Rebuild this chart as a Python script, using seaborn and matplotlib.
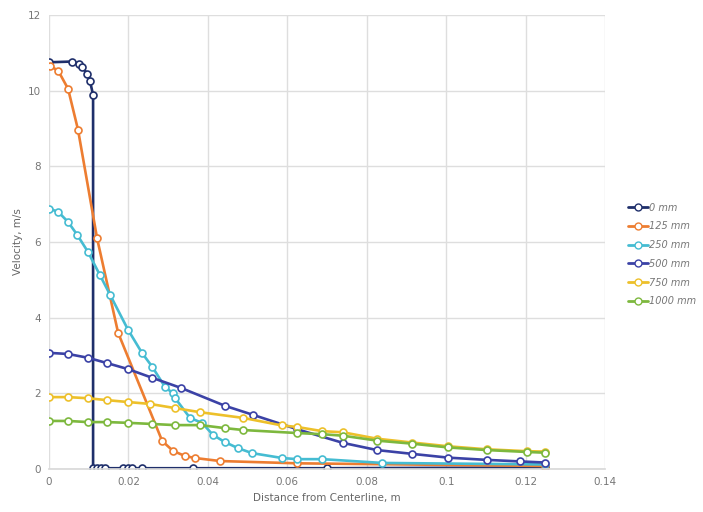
import numpy as np
import pandas as pd
import matplotlib
matplotlib.use("Agg")
import matplotlib.pyplot as plt
import seaborn as sns
from matplotlib.lines import Line2D

series_names = ["0 mm", "125 mm", "250 mm", "500 mm", "750 mm", "1000 mm"]
colors = ["#1F2F6B", "#ED7D31", "#45BCD2", "#3B42A6", "#EDC02A", "#7DB83E"]

x_0 = [0.0, 0.0058, 0.0076, 0.0083, 0.0096, 0.0103, 0.0111, 0.0111, 0.0121, 0.0131, 0.0141,
       0.0186, 0.0199, 0.0209, 0.0234, 0.0363, 0.070, 0.125]
y_0 = [10.75, 10.77, 10.71, 10.63, 10.45, 10.26, 9.89, 0.02, 0.02, 0.02, 0.02,
       0.02, 0.02, 0.02, 0.02, 0.02, 0.02, 0.04]

x_125 = [0.0003, 0.0023, 0.0048, 0.0073, 0.0121, 0.0174, 0.0285, 0.0312, 0.0343, 0.0368,
         0.0431, 0.0625, 0.125]
y_125 = [10.65, 10.53, 10.05, 8.97, 6.1, 3.6, 0.74, 0.48, 0.34, 0.29,
         0.21, 0.15, 0.08]

x_250 = [0.0, 0.0023, 0.0048, 0.0071, 0.0098, 0.0128, 0.0154, 0.0199, 0.0234, 0.026,
         0.0292, 0.0312, 0.0317, 0.0355, 0.0385, 0.0413, 0.0443, 0.0476, 0.0511, 0.0587,
         0.0625, 0.0688, 0.0839, 0.125]
y_250 = [6.88, 6.8, 6.53, 6.19, 5.74, 5.13, 4.6, 3.68, 3.07, 2.7,
         2.17, 2.0, 1.88, 1.35, 1.22, 0.9, 0.71, 0.55, 0.42, 0.29,
         0.26, 0.26, 0.16, 0.12]

x_500 = [0.0, 0.0048, 0.0098, 0.0146, 0.0199, 0.026, 0.0333, 0.0443, 0.0514, 0.0625,
         0.074, 0.0826, 0.0914, 0.1005, 0.1103, 0.1186, 0.125]
y_500 = [3.07, 3.04, 2.94, 2.8, 2.64, 2.41, 2.14, 1.67, 1.43, 1.05,
         0.69, 0.5, 0.4, 0.3, 0.24, 0.2, 0.17]

x_750 = [0.0, 0.0048, 0.0098, 0.0146, 0.0199, 0.0254, 0.0317, 0.0381, 0.0489, 0.0587,
         0.0625, 0.0688, 0.074, 0.0826, 0.0914, 0.1005, 0.1103, 0.1204, 0.125]
y_750 = [1.9, 1.9, 1.87, 1.82, 1.77, 1.72, 1.61, 1.5, 1.35, 1.15,
         1.11, 1.0, 0.97, 0.8, 0.7, 0.6, 0.52, 0.47, 0.46]

x_1000 = [0.0, 0.0048, 0.0098, 0.0146, 0.0199, 0.026, 0.0317, 0.0381, 0.0443, 0.0489,
          0.0625, 0.0688, 0.074, 0.0826, 0.0914, 0.1005, 0.1103, 0.1204, 0.125]
y_1000 = [1.27, 1.27, 1.24, 1.24, 1.22, 1.19, 1.16, 1.16, 1.08, 1.03,
          0.95, 0.92, 0.88, 0.75, 0.67, 0.57, 0.5, 0.45, 0.43]

all_x = [x_0, x_125, x_250, x_500, x_750, x_1000]
all_y = [y_0, y_125, y_250, y_500, y_750, y_1000]

frames = []
for name, xs, ys in zip(series_names, all_x, all_y):
    frames.append(pd.DataFrame({"x": xs, "y": ys, "series": name}))
df = pd.concat(frames, ignore_index=True)

sns.set_theme(style="white")
plt.rcParams['font.family'] = ['DejaVu Sans']

fig = plt.figure(figsize=(7.03, 5.12), dpi=100)
ax = fig.add_axes([0.0697, 0.084, 0.791, 0.8867])

sns.lineplot(data=df, x="x", y="y", hue="series", hue_order=series_names,
             palette=colors, sort=False, estimator=None, units="series",
             marker="o", markersize=5, markerfacecolor="white",
             markeredgewidth=1.2, linewidth=1.9, ax=ax, legend=False)

for line, c in zip(ax.get_lines(), colors):
    line.set_markeredgecolor(c)

ax.set_xlim(0, 0.14)
ax.set_ylim(0, 12)
ax.set_xticks([0, 0.02, 0.04, 0.06, 0.08, 0.1, 0.12, 0.14])
ax.set_xticklabels(["0", "0.02", "0.04", "0.06", "0.08", "0.1", "0.12", "0.14"])
ax.set_yticks([0, 2, 4, 6, 8, 10, 12])
ax.set_yticklabels(["0", "2", "4", "6", "8", "10", "12"])
ax.grid(True, color="#dedede", linewidth=1.0)
ax.set_axisbelow(True)
for s in ["top", "right", "left"]:
    ax.spines[s].set_visible(False)
ax.spines["bottom"].set_color("#d9d9d9")
ax.tick_params(axis="both", labelsize=7.5, colors="#777777", length=0, pad=6)
ax.set_xlabel("Distance from Centerline, m", fontsize=7.5, color="#666666", labelpad=4)
ax.set_ylabel("Velocity, m/s", fontsize=7.5, color="#666666", labelpad=3)

handles = []
for name, c in zip(series_names, colors):
    handles.append(Line2D([0], [0], color=c, linewidth=2, marker="o", markersize=5,
                          markerfacecolor="white", markeredgecolor=c, label=name))
leg = fig.legend(handles=handles, loc="upper left", bbox_to_anchor=(0.888, 0.612),
                 frameon=False, fontsize=7, handlelength=2.0, handletextpad=0.1,
                 labelspacing=0.9, borderaxespad=0)
for t in leg.get_texts():
    t.set_color("#777777")
    t.set_fontstyle("italic")

fig.savefig("out.png", dpi=100)
